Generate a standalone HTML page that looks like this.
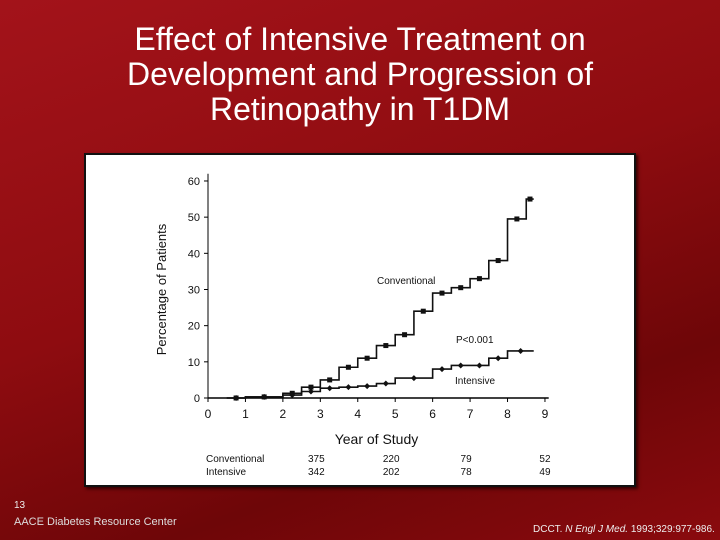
<!DOCTYPE html>
<html><head><meta charset="utf-8"><style>
body{margin:0;width:720px;height:540px;overflow:hidden;font-family:"Liberation Sans",sans-serif}
#bg{position:absolute;left:0;top:0;width:720px;height:540px;background:linear-gradient(160deg,#a3131a 0%,#8e0c10 45%,#6e0608 75%,#8a0a0e 100%)}
#title{position:absolute;left:0;top:22px;width:720px;text-align:center;color:#fff;font-size:32px;line-height:35px}
#panel{position:absolute;left:84px;top:153px;width:548px;height:330px;background:#fff;border:2px solid #111;box-shadow:2px 2px 3px #300}
.foot{position:absolute;color:#eee;font-size:11px}
</style></head><body>
<div id="bg"></div>
<div id="title">Effect of Intensive Treatment on<br>Development and Progression of<br>Retinopathy in T1DM</div>
<div id="panel"></div>
<svg id="chart" width="720" height="540" style="position:absolute;left:0;top:0"></svg>
<div class="foot" style="left:14px;top:500px;font-size:10px">13</div>
<div class="foot" style="left:14px;top:516px;font-size:11px;color:#ddd">AACE Diabetes Resource Center</div>
<div class="foot" style="left:533px;top:524px;font-size:10px">DCCT. <i>N Engl J Med.</i> 1993;329:977-986.</div>
<script>
const stepStarts=[0.5,1,2,2.5,3,3.5,4,4.5,5,5.5,6,6.5,7,7.5,8,8.5];
const conventional=[0,0.3,1.3,3,5,8.5,11,14.5,17.5,24,29,30.5,33,38,49.5,55];
const intensiveStarts=[0.5,1,2,2.5,3,3.5,4,4.5,5,6,6.5,7,7.5,8];
const intensive=[0,0.3,0.8,1.8,2.7,3,3.3,4,5.5,8,9,9,11,13];
const endTime=8.7;
const yTicks=[0,10,20,30,40,50,60];
const xTicks=[0,1,2,3,4,5,6,7,8,9];
const atRiskYears=["375","220","79","52"];
const atRiskInt=["342","202","78","49"];
const atRiskX=[3,5,7,9];
const NS="http://www.w3.org/2000/svg";
const svg=document.getElementById('chart');
const X=v=>208+v*37.44, Y=v=>398-v*3.617;
function mk(t,a,txt){const e=document.createElementNS(NS,t);for(const k in a)e.setAttribute(k,a[k]);if(txt!=null)e.textContent=txt;svg.appendChild(e);return e;}
let e=mk('line',{x1:X(0),y1:Y(0),x2:X(9.1),y2:Y(0),stroke:'#000','stroke-width':1.5});

e=mk('line',{x1:X(0),y1:Y(0),x2:X(0),y2:Y(62),stroke:'#000','stroke-width':1});

yTicks.forEach(t=>{mk('line',{x1:X(0)-4,y1:Y(t),x2:X(0),y2:Y(t),stroke:'#000'});
e=mk('text',{x:X(0)-8,y:Y(t)+4,'text-anchor':'end','font-size':11,fill:'#111'},t);
});
xTicks.forEach(t=>{mk('line',{x1:X(t),y1:Y(0),x2:X(t),y2:Y(0)+4,stroke:'#000'});
e=mk('text',{x:X(t),y:Y(0)+20,'text-anchor':'middle','font-size':12,fill:'#111'},t);
});
e=mk('text',{x:0,y:0,transform:`translate(166,${Y(30)}) rotate(-90)`,'text-anchor':'middle','font-size':13,fill:'#111'},'Percentage of Patients');

e=mk('text',{x:X(4.5),y:444,'text-anchor':'middle','font-size':14,fill:'#111'},'Year of Study');

function series(starts,vals,name,marker){
 let d='';starts.forEach((s,i)=>{const en=i<starts.length-1?starts[i+1]:endTime;d+=(i?'L':'M')+X(s)+','+Y(vals[i])+'L'+X(en)+','+Y(vals[i]);});
 const p=mk('path',{d:d,fill:'none',stroke:'#111','stroke-width':1.6});
 
 starts.forEach((s,i)=>{const en=i<starts.length-1?starts[i+1]:endTime;const cx=X((s+en)/2),cy=Y(vals[i]);
  let m;if(marker==='sq')m=mk('rect',{x:cx-2.5,y:cy-2.5,width:5,height:5,fill:'#111'});
  else m=mk('path',{d:`M${cx},${cy-3}L${cx+3},${cy}L${cx},${cy+3}L${cx-3},${cy}Z`,fill:'#111'});
  });
}
series(stepStarts,conventional,'conventional','sq');
series(intensiveStarts,intensive,'intensive','di');
e=mk('text',{x:377,y:284,'font-size':10,fill:'#111'},'Conventional');
e=mk('text',{x:456,y:343,'font-size':10,fill:'#111'},'P<0.001');
e=mk('text',{x:455,y:384,'font-size':10,fill:'#111'},'Intensive');
e=mk('text',{x:206,y:462,'font-size':10,fill:'#111'},'Conventional');
e=mk('text',{x:206,y:475,'font-size':10,fill:'#111'},'Intensive');
atRiskX.forEach((t,i)=>{
 e=mk('text',{x:X(t)-(i==3?0:4),y:462,'text-anchor':'middle','font-size':10,fill:'#111'},atRiskYears[i]);
 e=mk('text',{x:X(t)-(i==3?0:4),y:475,'text-anchor':'middle','font-size':10,fill:'#111'},atRiskInt[i]);
});
</script>
</body></html>
